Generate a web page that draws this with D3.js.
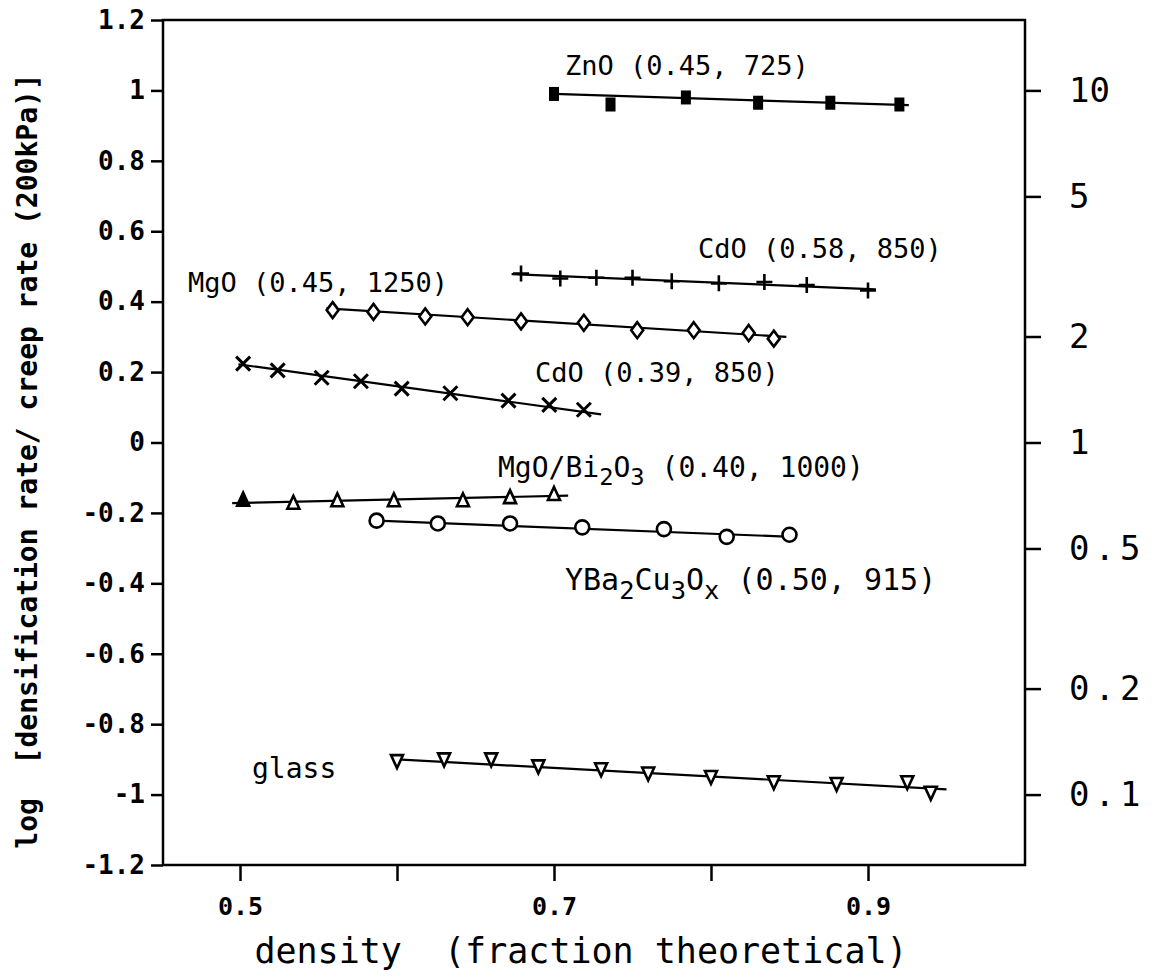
<!DOCTYPE html>
<html>
<head>
<meta charset="utf-8">
<script src="https://cdn.jsdelivr.net/npm/d3@7"></script>
<style>
  html, body { margin: 0; padding: 0; background: #fff; }
  svg { display: block; }
  text { fill: #000; }
</style>
</head>
<body>
<svg id="chart" width="1159" height="980"></svg>
<script>
// ---- data: density (fraction theoretical) vs log(densification rate / creep rate) ----
const zno_d   = [0.700, 0.736, 0.784, 0.830, 0.876, 0.920];
const zno_v   = [0.99, 0.96, 0.98, 0.965, 0.965, 0.96];
const zno_fit = [[0.700, 0.990], [0.926, 0.958]];

const cdoA_d   = [0.679, 0.704, 0.727, 0.750, 0.775, 0.805, 0.834, 0.861, 0.900];
const cdoA_v   = [0.480, 0.466, 0.468, 0.468, 0.458, 0.452, 0.456, 0.447, 0.432];
const cdoA_fit = [[0.673, 0.478], [0.905, 0.435]];

const mgo_d   = [0.559, 0.585, 0.618, 0.645, 0.679, 0.719, 0.753, 0.789, 0.824, 0.840];
const mgo_v   = [0.376, 0.371, 0.358, 0.356, 0.344, 0.340, 0.319, 0.319, 0.311, 0.295];
const mgo_fit = [[0.555, 0.381], [0.848, 0.300]];

const cdoB_d   = [0.502, 0.524, 0.552, 0.577, 0.603, 0.634, 0.671, 0.697, 0.719];
const cdoB_v   = [0.224, 0.205, 0.184, 0.174, 0.153, 0.140, 0.119, 0.107, 0.093];
const cdoB_fit = [[0.499, 0.222], [0.730, 0.080]];

const mgobi_d   = [0.502, 0.534, 0.562, 0.598, 0.642, 0.672, 0.700];
const mgobi_v   = [-0.165, -0.174, -0.167, -0.167, -0.167, -0.158, -0.149];
const mgobi_fit = [[0.495, -0.172], [0.709, -0.151]];

const ybco_d   = [0.587, 0.626, 0.672, 0.718, 0.770, 0.810, 0.850];
const ybco_v   = [-0.222, -0.230, -0.230, -0.241, -0.246, -0.268, -0.262];
const ybco_fit = [[0.587, -0.222], [0.852, -0.268]];

const glass_d   = [0.600, 0.630, 0.660, 0.690, 0.730, 0.760, 0.800, 0.840, 0.880, 0.925, 0.940];
const glass_v   = [-0.905, -0.900, -0.900, -0.920, -0.928, -0.940, -0.950, -0.965, -0.970, -0.965, -0.995];
const glass_fit = [[0.600, -0.900], [0.950, -0.985]];

// axis ticks
const xTickValues = [0.5, 0.6, 0.7, 0.8, 0.9];
const xTickLabels = ["0.5", "", "0.7", "", "0.9"];
const yTickValues = [1.2, 1, 0.8, 0.6, 0.4, 0.2, 0, -0.2, -0.4, -0.6, -0.8, -1, -1.2];
const yTickLabels = ["1.2", "1", "0.8", "0.6", "0.4", "0.2", "0", "-0.2", "-0.4", "-0.6", "-0.8", "-1", "-1.2"];
const ratioTickValues = [10, 5, 2, 1, 0.5, 0.2, 0.1];
const ratioTickLabels = ["10", "5", "2", "1", "0.5", "0.2", "0.1"];

// ---- layout ----
const svg = d3.select("#chart");
const frame = { left: 163, right: 1025, top: 20, bottom: 865 };
const mono = "'DejaVu Sans Mono', 'Liberation Mono', monospace";

const x = d3.scaleLinear().domain([0.45, 1.0]).range([frame.left - 1.5, frame.right]);
const y = d3.scaleLinear().domain([-1.2, 1.2]).range([frame.bottom, frame.top]);
const yRatio = d3.scaleLog().domain([Math.pow(10, -1.2), Math.pow(10, 1.2)]).range([frame.bottom, frame.top]);

// frame
svg.append("rect")
  .attr("x", frame.left).attr("y", frame.top)
  .attr("width", frame.right - frame.left).attr("height", frame.bottom - frame.top)
  .attr("fill", "none").attr("stroke", "#000").attr("stroke-width", 2.5);

// bottom axis
const gx = svg.append("g").attr("transform", `translate(0,${frame.bottom})`)
  .call(d3.axisBottom(x).tickValues(xTickValues)
    .tickFormat((d, i) => xTickLabels[i]).tickSize(16).tickSizeOuter(0).tickPadding(16));
gx.select(".domain").remove();
gx.selectAll(".tick line").attr("stroke", "#000").attr("stroke-width", 2.5);
gx.selectAll(".tick text").attr("font-family", mono).attr("font-size", 25)
  .attr("font-weight", "bold").attr("fill", "#000");

// left axis
const gy = svg.append("g").attr("transform", `translate(${frame.left},0)`)
  .call(d3.axisLeft(y).tickValues(yTickValues)
    .tickFormat((d, i) => yTickLabels[i]).tickSize(12).tickSizeOuter(0).tickPadding(6));
gy.select(".domain").remove();
gy.selectAll(".tick line").attr("stroke", "#000").attr("stroke-width", 2.5);
gy.selectAll(".tick text").attr("font-family", mono).attr("font-size", 26)
  .attr("font-weight", "bold").attr("fill", "#000");

// right axis: ratio on a log scale
const gr = svg.append("g").attr("transform", `translate(${frame.right},0)`)
  .call(d3.axisRight(yRatio).tickValues(ratioTickValues)
    .tickFormat((d, i) => ratioTickLabels[i]).tickSize(16).tickSizeOuter(0).tickPadding(28));
gr.select(".domain").remove();
gr.selectAll(".tick line").attr("stroke", "#000").attr("stroke-width", 2.5);
gr.selectAll(".tick text").attr("font-family", mono).attr("font-size", 34)
  .attr("letter-spacing", d => d < 1 ? 5 : 0).attr("fill", "#000");

// axis titles
svg.append("text")
  .attr("x", 581).attr("y", 963).attr("text-anchor", "middle")
  .attr("font-family", mono).attr("font-size", 35).attr("xml:space", "preserve")
  .text("density  (fraction theoretical)");

svg.append("text")
  .attr("transform", "translate(37,461) rotate(-90)").attr("text-anchor", "middle")
  .attr("font-family", mono).attr("font-size", 28).attr("font-weight", 600)
  .attr("xml:space", "preserve")
  .text("log  [densification rate/ creep rate (200kPa)]");

// ---- series ----
const plot = svg.append("g");
const line = d3.line().x(d => x(d[0])).y(d => y(d[1]));

function fit(pts) {
  plot.append("path").datum(pts).attr("d", line)
    .attr("fill", "none").attr("stroke", "#000").attr("stroke-width", 2.2);
}
function pairs(ds, vs) { return ds.map((d, i) => [d, vs[i]]); }

const S = 2.6; // marker stroke width

// ZnO: filled squares
fit(zno_fit);
plot.selectAll(".zno").data(pairs(zno_d, zno_v)).join("rect")
  .attr("x", d => x(d[0]) - 5).attr("y", d => y(d[1]) - 7)
  .attr("width", 10).attr("height", 14).attr("fill", "#000");

// CdO (0.58): plus signs
fit(cdoA_fit);
plot.selectAll(".cdoA").data(pairs(cdoA_d, cdoA_v)).join("path")
  .attr("d", d => { const cx = x(d[0]), cy = y(d[1]);
    return `M${cx - 8},${cy}H${cx + 8}M${cx},${cy - 8}V${cy + 8}`; })
  .attr("stroke", "#000").attr("stroke-width", S).attr("fill", "none");

// MgO: open diamonds
fit(mgo_fit);
plot.selectAll(".mgo").data(pairs(mgo_d, mgo_v)).join("path")
  .attr("d", d => { const cx = x(d[0]), cy = y(d[1]);
    return `M${cx},${cy - 8}L${cx + 6},${cy}L${cx},${cy + 8}L${cx - 6},${cy}Z`; })
  .attr("stroke", "#000").attr("stroke-width", S).attr("fill", "#fff");

// CdO (0.39): crosses
fit(cdoB_fit);
plot.selectAll(".cdoB").data(pairs(cdoB_d, cdoB_v)).join("path")
  .attr("d", d => { const cx = x(d[0]), cy = y(d[1]);
    return `M${cx - 7},${cy - 7}L${cx + 7},${cy + 7}M${cx + 7},${cy - 7}L${cx - 7},${cy + 7}`; })
  .attr("stroke", "#000").attr("stroke-width", 3).attr("fill", "none");

// MgO/Bi2O3: open triangles
fit(mgobi_fit);
plot.selectAll(".mgobi").data(pairs(mgobi_d, mgobi_v)).join("path")
  .attr("d", d => { const cx = x(d[0]), cy = y(d[1]);
    return `M${cx},${cy - 8}L${cx + 6},${cy + 5}L${cx - 6},${cy + 5}Z`; })
  .attr("stroke", "#000").attr("stroke-width", S)
  .attr("fill", (d, i) => i === 0 ? "#000" : "#fff");

// YBa2Cu3Ox: open circles
fit(ybco_fit);
plot.selectAll(".ybco").data(pairs(ybco_d, ybco_v)).join("circle")
  .attr("cx", d => x(d[0])).attr("cy", d => y(d[1])).attr("r", 7)
  .attr("stroke", "#000").attr("stroke-width", S).attr("fill", "#fff");

// glass: open inverted triangles
fit(glass_fit);
plot.selectAll(".glass").data(pairs(glass_d, glass_v)).join("path")
  .attr("d", d => { const cx = x(d[0]), cy = y(d[1]);
    return `M${cx - 6},${cy - 6}L${cx + 6},${cy - 6}L${cx},${cy + 7}Z`; })
  .attr("stroke", "#000").attr("stroke-width", S).attr("fill", "#fff");

// ---- series labels (chemical formulas carry near-full-size subscripts) ----
function label(px, py, size, parts) {
  const t = plot.append("text").attr("x", px).attr("y", py)
    .attr("font-family", mono).attr("font-size", size).attr("xml:space", "preserve");
  const shift = Math.round(size * 0.3);
  parts.forEach(p => {
    const s = t.append("tspan").text(p.t);
    if (p.sub) s.attr("font-size", size * 0.85).attr("dy", shift);
    if (p.up) s.attr("dy", -shift);
  });
}
label(565, 75,  27, [{t: "ZnO (0.45, 725)"}]);
label(698, 258, 27, [{t: "CdO (0.58, 850)"}]);
label(188, 292, 27, [{t: "MgO (0.45, 1250)"}]);
label(535, 382, 27, [{t: "CdO (0.39, 850)"}]);
label(498, 477, 28, [{t: "MgO/Bi"}, {t: "2", sub: true}, {t: "O", up: true}, {t: "3", sub: true}, {t: " (0.40, 1000)", up: true}]);
label(565, 590, 30, [{t: "YBa"}, {t: "2", sub: true}, {t: "Cu", up: true}, {t: "3", sub: true}, {t: "O", up: true}, {t: "x", sub: true}, {t: " (0.50, 915)", up: true}]);
label(252, 778, 28, [{t: "glass"}]);
</script>
</body>
</html>
